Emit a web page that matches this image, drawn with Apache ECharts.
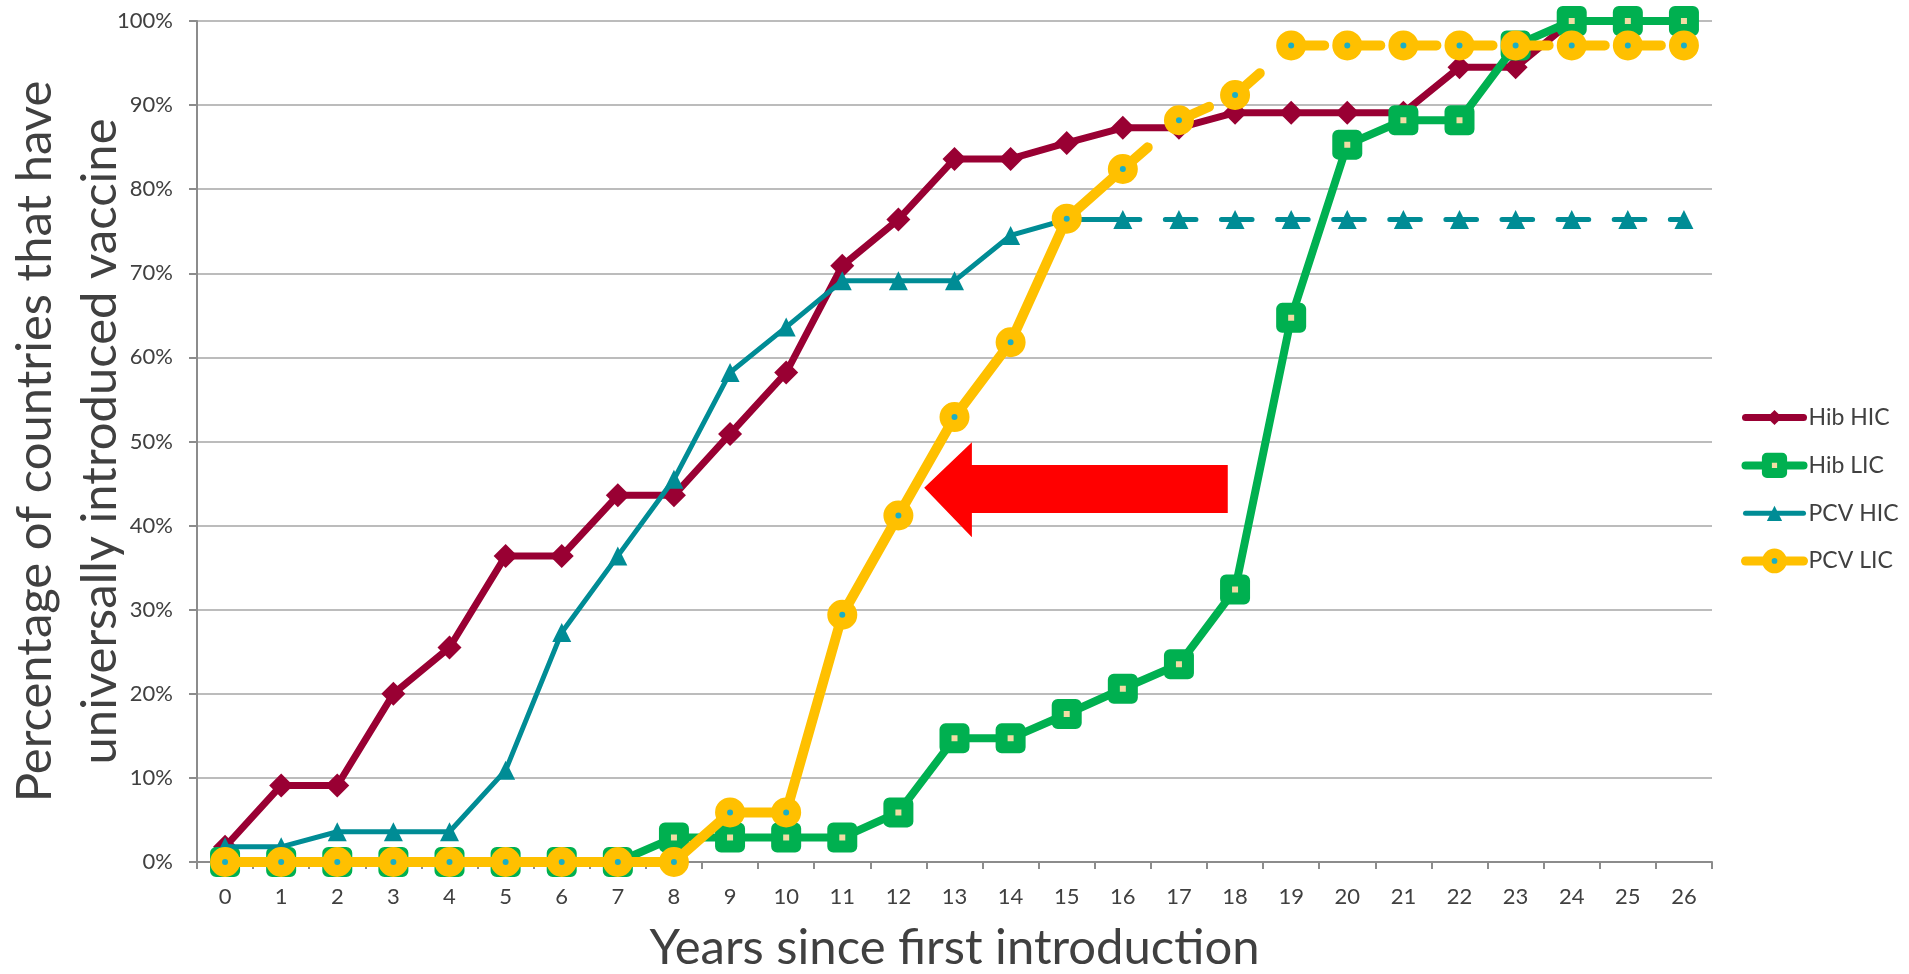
<!DOCTYPE html>
<html><head><meta charset="utf-8">
<script src="https://cdn.jsdelivr.net/npm/echarts@6/dist/echarts.min.js"></script>
<style>html,body{margin:0;padding:0;background:#fff}#c{width:1909px;height:974px}</style>
</head><body><div id="c"></div>
<script>
// ---- data (percent of countries) ----
const years = ['0','1','2','3','4','5','6','7','8','9','10','11','12','13','14','15','16','17','18','19','20','21','22','23','24','25','26'];
const hibHIC = [1.8, 9.1, 9.1, 20.0, 25.5, 36.4, 36.4, 43.6, 43.6, 50.9, 58.2, 70.9, 76.4, 83.6, 83.6, 85.5, 87.3, 87.3, 89.1, 89.1, 89.1, 89.1, 94.5, 94.5, 100, 100, 100];
const hibLIC = [0, 0, 0, 0, 0, 0, 0, 0, 2.9, 2.9, 2.9, 2.9, 5.9, 14.7, 14.7, 17.6, 20.6, 23.5, 32.4, 64.7, 85.3, 88.2, 88.2, 97.1, 100, 100, 100];
const pcvHIC = [1.8, 1.8, 3.6, 3.6, 3.6, 10.9, 27.3, 36.4, 45.5, 58.2, 63.6, 69.1, 69.1, 69.1, 74.5, 76.4, 76.4, 76.4, 76.4, 76.4, 76.4, 76.4, 76.4, 76.4, 76.4, 76.4, 76.4];
const pcvLIC = [0, 0, 0, 0, 0, 0, 0, 0, 0, 5.9, 5.9, 29.4, 41.2, 52.9, 61.8, 76.5, 82.4, 88.2, 91.2, 97.1, 97.1, 97.1, 97.1, 97.1, 97.1, 97.1, 97.1];
const seriesNames = ['Hib HIC', 'Hib LIC', 'PCV HIC', 'PCV LIC'];
const dashFrom = 16; // PCV lines are dashed from this year on
// annotation arrow in data coordinates [category index, percent]
const arrowPts = [[12.46,44.5],[13.31,49.9],[13.31,47.2],[17.87,47.2],[17.87,41.5],[13.31,41.5],[13.31,38.6]];

const FONT = 'Lato';
const TXT = '#404040';
const RED = '#990033', GREEN = '#00B050', TEAL = '#008C95', YELLOW = '#FFC000', DOT = '#1AAFC4', PALE = '#F2DDA4';

function upTo(arr, n){ return arr.map((v,i)=> i<=n ? v : null); }
function seg(arr, i){ return arr.map((v,j)=> (j===i || j===i+1) ? v : null); }
const base = {type:'line', silent:true, animation:false, emphasis:{disabled:true}, showAllSymbol:true};

const series = [];
series.push(Object.assign({}, base, {name:seriesNames[0], data:hibHIC, z:2,
  symbol:'diamond', symbolSize:24, itemStyle:{color:RED}, lineStyle:{color:RED, width:7}}));
series.push(Object.assign({}, base, {name:seriesNames[1], data:hibLIC, z:3,
  symbol:'rect', symbolSize:18, itemStyle:{color:PALE, borderColor:GREEN, borderWidth:12, borderJoin:'round'},
  lineStyle:{color:GREEN, width:8}}));
// PCV HIC
series.push(Object.assign({}, base, {name:'pcvHIC-solid', data:upTo(pcvHIC, dashFrom), z:4, showSymbol:false,
  lineStyle:{color:TEAL, width:5}}));
for (let i = dashFrom; i < years.length-1; i++) {
  series.push(Object.assign({}, base, {name:'pcvHIC-dash', data:seg(pcvHIC, i), z:4, showSymbol:false,
    lineStyle:{color:TEAL, width:5, type:[17,25.5,200], cap:'round'}}));
}
series.push(Object.assign({}, base, {name:seriesNames[2], data:pcvHIC, z:5,
  symbol:'triangle', symbolSize:19, itemStyle:{color:TEAL}, lineStyle:{color:TEAL, width:5, opacity:0}}));
// PCV LIC
series.push(Object.assign({}, base, {name:'pcvLIC-solid', data:upTo(pcvLIC, dashFrom), z:6, showSymbol:false,
  lineStyle:{color:YELLOW, width:10}}));
for (let i = dashFrom; i < years.length-1; i++) {
  series.push(Object.assign({}, base, {name:'pcvLIC-dash', data:seg(pcvLIC, i), z:6, showSymbol:false,
    lineStyle:{color:YELLOW, width:10, type:[33,200], cap:'round'}}));
}
series.push(Object.assign({}, base, {name:seriesNames[3], data:pcvLIC, z:7,
  symbol:'circle', symbolSize:18, itemStyle:{color:DOT, borderColor:YELLOW, borderWidth:12},
  lineStyle:{color:YELLOW, width:10, opacity:0}}));

const axisGray = '#8c8c8c';
const option = {
  backgroundColor:'#fff',
  animation:false,
  grid:{left:197, right:197, top:21, bottom:112, containLabel:false, outerBoundsMode:'none'},
  legend:{
    orient:'vertical', left:1736, top:401, itemWidth:58, itemHeight:19, itemGap:23.8, selectedMode:false,
    textStyle:{fontFamily:FONT, fontSize:23, color:TXT},
    data:[
      {name:seriesNames[0], itemStyle:{color:RED, borderWidth:0}, lineStyle:{color:RED, width:7, opacity:1, cap:'round'}},
      {name:seriesNames[1], itemStyle:{color:PALE, borderColor:GREEN, borderWidth:10, borderJoin:'round'}, lineStyle:{color:GREEN, width:8, opacity:1, cap:'round'}},
      {name:seriesNames[2], itemStyle:{color:TEAL, borderWidth:0}, lineStyle:{color:TEAL, width:5, opacity:1, type:'solid', cap:'round'}},
      {name:seriesNames[3], itemStyle:{color:DOT, borderColor:YELLOW, borderWidth:9.5}, lineStyle:{color:YELLOW, width:9, opacity:1, type:'solid', cap:'round'}}
    ]
  },
  xAxis:{
    type:'category', data:years, boundaryGap:true,
    name:'Years since first introduction', nameLocation:'middle', nameGap:62, nameMoveOverlap:false,
    nameTextStyle:{fontFamily:FONT, fontSize:49, color:TXT},
    axisLine:{show:true, lineStyle:{color:axisGray, width:2}},
    axisTick:{show:true, interval:0, length:7, lineStyle:{color:axisGray, width:2}},
    axisLabel:{interval:0, fontFamily:FONT, fontSize:22, color:TXT, margin:24},
    splitLine:{show:false}
  },
  yAxis:{
    type:'value', min:0, max:100, interval:10,
    name:'Percentage of countries that have\nuniversally introduced vaccine',
    nameLocation:'middle', nameGap:64, nameMoveOverlap:false,
    nameTextStyle:{fontFamily:FONT, fontSize:49, lineHeight:65, color:TXT},
    axisLine:{show:true, lineStyle:{color:axisGray, width:2}},
    axisTick:{show:true, length:8, lineStyle:{color:axisGray, width:2}},
    axisLabel:{formatter:'{value}%', fontFamily:FONT, fontSize:22, color:TXT, margin:24},
    splitLine:{show:true, lineStyle:{color:'#a6a6a6', width:1.5}}
  },
  series:series
};

const chart = echarts.init(document.getElementById('c'), null, {renderer:'canvas'});
chart.setOption(option);

function toPx(p){
  const x0 = chart.convertToPixel({xAxisIndex:0}, years[0]);
  const x1 = chart.convertToPixel({xAxisIndex:0}, years[1]);
  const y = chart.convertToPixel({yAxisIndex:0}, p[1]);
  return [x0 + (x1 - x0) * p[0], y];
}
chart.setOption({graphic:[{type:'polygon', z:10, silent:true, shape:{points:arrowPts.map(toPx)}, style:{fill:'#FF0000'}}]});
</script></body></html>
